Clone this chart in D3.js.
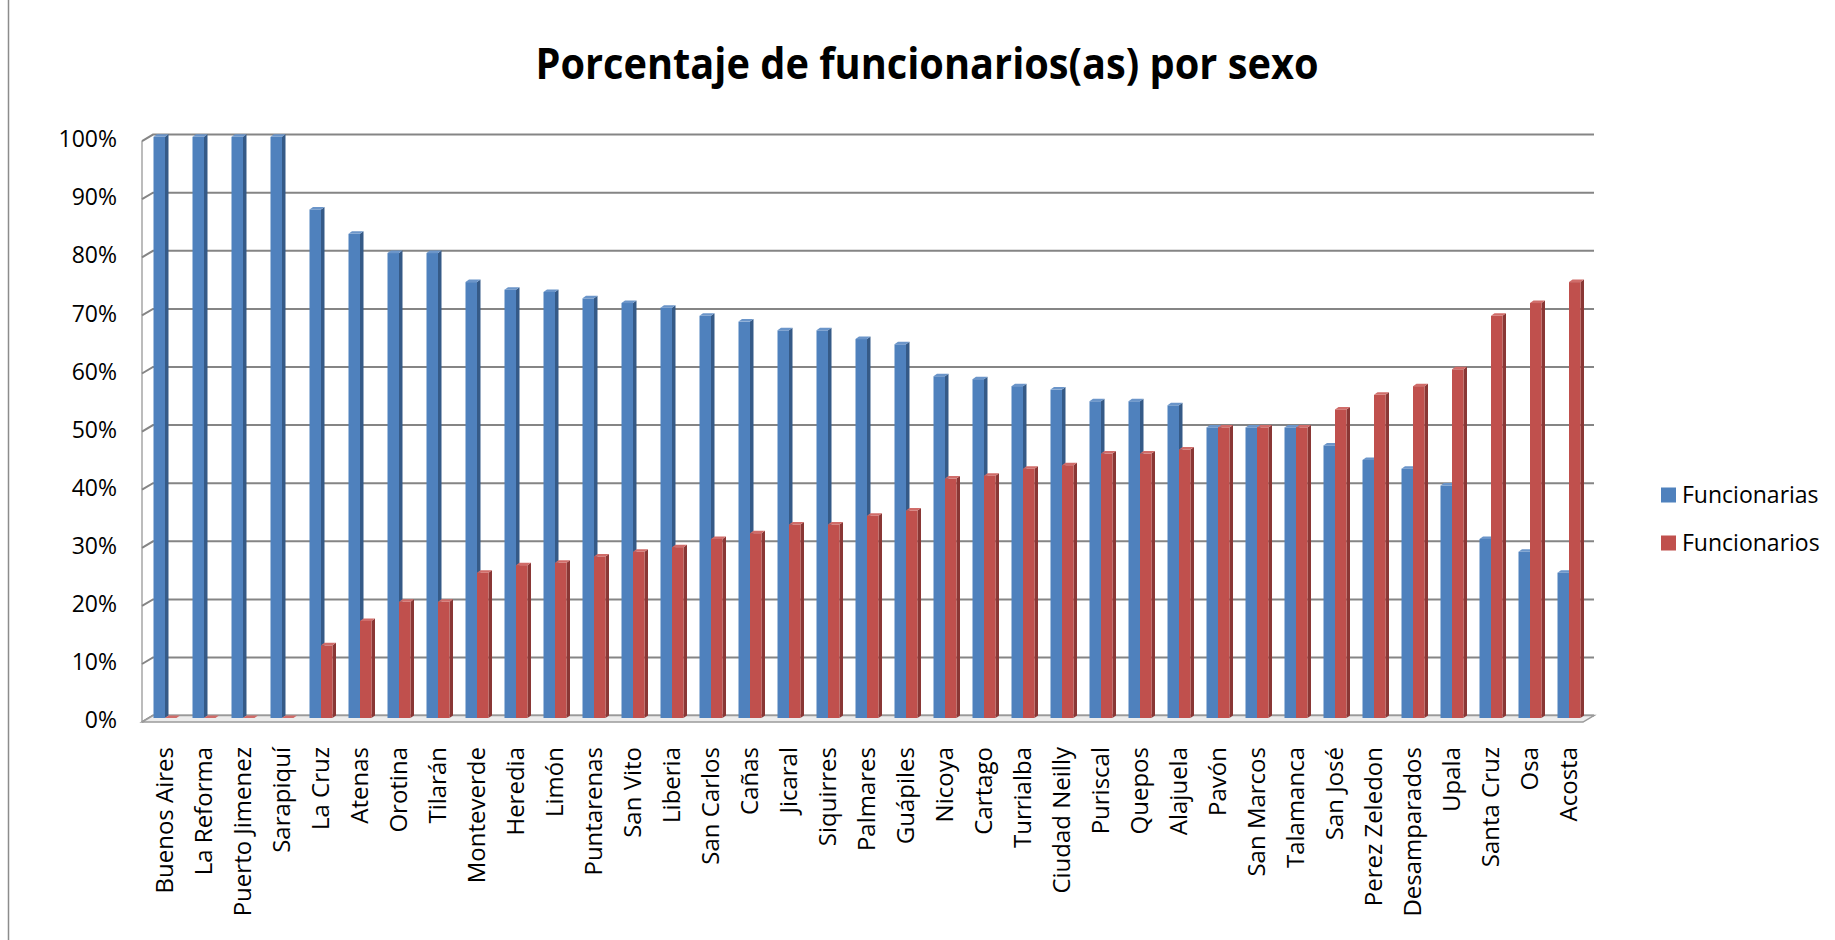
<!DOCTYPE html>
<html lang="es">
  <head>
    <meta charset="UTF-8" />
    <title>Porcentaje de funcionarios(as) por sexo</title>
    <script src="https://d3js.org/d3.v7.min.js"></script>
    <style>
      body {
        margin: 0;
        background: white;
      }
      text {
        font-family: 'Open Sans', sans-serif;
        fill: black;
      }
    </style>
  </head>
  <body>
    <div class="chart"></div>
    <script>
      // data
      const oficinas = ["Buenos Aires", "La Reforma", "Puerto Jimenez", "Sarapiquí", "La Cruz", "Atenas",
        "Orotina", "Tilarán", "Monteverde", "Heredia", "Limón", "Puntarenas", "San Vito", "Liberia",
        "San Carlos", "Cañas", "Jicaral", "Siquirres", "Palmares", "Guápiles", "Nicoya", "Cartago",
        "Turrialba", "Ciudad Neilly", "Puriscal", "Quepos", "Alajuela", "Pavón", "San Marcos",
        "Talamanca", "San José", "Perez Zeledon", "Desamparados", "Upala", "Santa Cruz", "Osa", "Acosta"];
      const funcionarias = [100, 100, 100, 100, 87.5, 83.3, 80, 80, 75, 73.7, 73.3, 72.2, 71.4, 70.6,
        69.2, 68.2, 66.7, 66.7, 65.2, 64.3, 58.8, 58.3, 57.1, 56.5, 54.5, 54.5, 53.8, 50, 50, 50,
        46.9, 44.4, 42.9, 40, 30.8, 28.6, 25];
      const funcionarios = [0, 0, 0, 0, 12.5, 16.7, 20, 20, 25, 26.3, 26.7, 27.8, 28.6, 29.4,
        30.8, 31.8, 33.3, 33.3, 34.8, 35.7, 41.2, 41.7, 42.9, 43.5, 45.5, 45.5, 46.2, 50, 50, 50,
        53.1, 55.6, 57.1, 60, 69.2, 71.4, 75];
      const series = ["Funcionarias", "Funcionarios"];
      const yTicks = [0, 10, 20, 30, 40, 50, 60, 70, 80, 90, 100];

      const width = 1835, height = 940;
      const depth = { x: 11, y: 6.5 };   // floor depth offset
      const barDepth = { x: 3.5, y: 2.5 };
      const barW = 11.5;

      const colors = {
        Funcionarias: { front: "#4f81bd", side: "#355a87", top: "#6b95c9" },
        Funcionarios: { front: "#c0504d", side: "#8a3735", top: "#d06c69" }
      };

      let svg = d3.select(".chart").append("svg")
        .attr("width", width)
        .attr("height", height);

      // left frame line
      svg.append("line")
        .attr("x1", 8.5).attr("x2", 8.5)
        .attr("y1", 0).attr("y2", height)
        .attr("stroke", "#8c8c8c")
        .attr("stroke-width", 1.5);

      // title
      svg.append("text")
        .attr("x", 927)
        .attr("y", 79)
        .attr("text-anchor", "middle")
        .attr("font-size", 43)
        .attr("font-weight", "bold")
        .attr("textLength", 783)
        .attr("lengthAdjust", "spacingAndGlyphs")
        .text("Porcentaje de funcionarios(as) por sexo");

      // scales
      let x = d3.scaleBand()
        .domain(oficinas)
        .range([145.5, 1588.5]);
      let yBack = d3.scaleLinear().domain([0, 100]).range([715.6, 134.6]);
      let yBar = d3.scaleLinear().domain([0, 100]).range([718, 136.8]);
      let yLabel = d3.scaleLinear().domain([0, 100]).range([720.5, 139.4]);

      const wallL = 153, wallR = 1594;

      // left side wall + back wall gridlines
      let grid = svg.append("g");
      grid.append("line")
        .attr("x1", wallL - depth.x).attr("x2", wallL - depth.x)
        .attr("y1", yBack(100) + depth.y).attr("y2", yBack(0) + depth.y)
        .attr("stroke", "#a6a6a6").attr("stroke-width", 1.5);
      grid.selectAll(".gl")
        .data(yTicks)
        .enter()
        .append("polyline")
        .attr("fill", "none")
        .attr("stroke", "#858585")
        .attr("stroke-width", 2)
        .attr("points", d => `${wallL - depth.x},${yBack(d) + depth.y} ${wallL},${yBack(d)} ${wallR},${yBack(d)}`);

      // floor
      let y0 = yBack(0);
      svg.append("polygon")
        .attr("points", `${wallL},${y0} ${wallR},${y0} ${wallR - depth.x},${y0 + depth.y} ${wallL - depth.x},${y0 + depth.y}`)
        .attr("fill", "#ececec")
        .attr("stroke", "#9a9a9a")
        .attr("stroke-width", 1.5);

      // y labels
      svg.append("g")
        .attr("transform", "translate(117,0)")
        .call(d3.axisLeft(yLabel).tickValues(yTicks).tickSize(0).tickPadding(0).tickFormat(d => d + "%"))
        .call(g => g.select(".domain").remove())
        .selectAll("text")
        .attr("font-size", 23)
        .attr("font-family", "'Open Sans', sans-serif")
        .attr("fill", "black");

      // bars
      let rows = oficinas.map((o, i) => ({ oficina: o, Funcionarias: funcionarias[i], Funcionarios: funcionarios[i] }));

      function drawSeries(name, offset) {
        let c = colors[name];
        let g = svg.append("g").attr("class", "serie-" + name);
        let bars = g.selectAll("g")
          .data(rows)
          .enter()
          .append("g");
        let left = d => x(d.oficina) + x.bandwidth() / 2 + offset;
        let b = yBar(0);
        bars.append("polygon")
          .attr("fill", c.side)
          .attr("points", d => {
            let l = left(d) + barW, t = yBar(d[name]);
            return `${l},${t} ${l + barDepth.x},${t - barDepth.y} ${l + barDepth.x},${b - barDepth.y} ${l},${b}`;
          });
        bars.append("rect")
          .attr("fill", c.front)
          .attr("x", left)
          .attr("y", d => yBar(d[name]))
          .attr("width", barW)
          .attr("height", d => b - yBar(d[name]));
        bars.append("polygon")
          .attr("fill", c.top)
          .attr("points", d => {
            let l = left(d), t = yBar(d[name]);
            return `${l},${t} ${l + barDepth.x},${t - barDepth.y} ${l + barW + barDepth.x},${t - barDepth.y} ${l + barW},${t}`;
          });
      }
      drawSeries("Funcionarias", -barW);
      drawSeries("Funcionarios", 0);

      // x labels
      svg.append("g")
        .attr("transform", "translate(0,747)")
        .call(d3.axisBottom(x).tickSize(0).tickPadding(0))
        .call(g => g.select(".domain").remove())
        .selectAll("text")
        .attr("font-size", 24)
        .attr("font-family", "'Open Sans', sans-serif")
        .attr("fill", "black")
        .attr("transform", "rotate(-90)")
        .attr("text-anchor", "end")
        .attr("x", 0)
        .attr("y", 0)
        .attr("dy", "0.35em");

      // legend
      let legend = svg.append("g")
        .selectAll("g")
        .data(series)
        .enter()
        .append("g")
        .attr("transform", (d, i) => `translate(1661,${495 + i * 48})`);
      legend.append("rect")
        .attr("x", 0).attr("y", -7.5)
        .attr("width", 15).attr("height", 15)
        .attr("fill", d => colors[d].front);
      legend.append("text")
        .attr("x", 21)
        .attr("dy", "0.35em")
        .attr("font-size", 23)
        .text(d => d);
    </script>
  </body>
</html>
